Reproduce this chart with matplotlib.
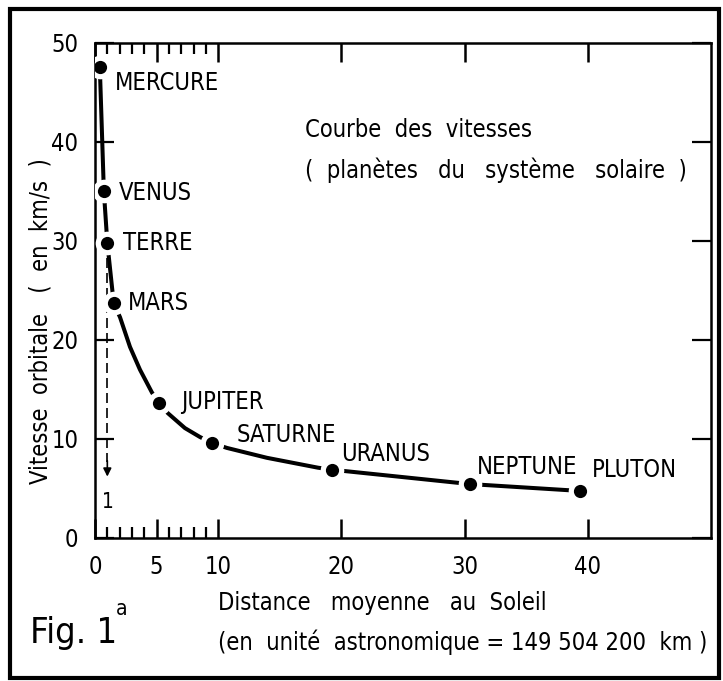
import matplotlib

matplotlib.use("Agg")
import matplotlib.pyplot as plt
from matplotlib.patches import Rectangle
from matplotlib.ticker import MultipleLocator

plt.rcParams["font.family"] = ["DejaVu Sans"]
plt.rcParams["font.stretch"] = "condensed"

# planets (distance in AU, orbital speed in km/s)
planets = ["MERCURE", "VENUS", "TERRE", "MARS", "JUPITER",
           "SATURNE", "URANUS", "NEPTUNE", "PLUTON"]
distance_au = [0.39, 0.72, 1.0, 1.52, 5.2, 9.5, 19.2, 30.4, 39.4]
speed_kms = [47.6, 35.0, 29.8, 23.7, 13.6, 9.6, 6.9, 5.45, 4.75]

# hand-drawn curve (passes through the planets)
curve_au = [0.39, 0.72, 1.0, 1.52, 2.03, 2.84, 3.65, 4.62, 5.2, 5.92,
            7.3, 8.52, 9.5, 10.7, 13.95, 18.1, 19.2, 30.4, 39.4]
curve_v = [47.6, 35.0, 29.8, 23.7, 22.3, 19.3, 17.0, 14.7, 13.6, 12.6,
           11.1, 10.2, 9.6, 9.1, 8.1, 7.1, 6.9, 5.45, 4.75]

x_ticks = [0, 5, 10, 20, 30, 40]
y_ticks = [0, 10, 20, 30, 40, 50]
arrow_end_v = 6.2

# label offsets from each dot, in points (dx, dy)
label_offsets = [(11, -12), (11, -1), (11, 0), (10, 0), (16, 1),
                 (18, 6), (7, 11), (5, 12), (8, 15)]

FS = 17

fig = plt.figure(figsize=(7.23, 6.81), dpi=100)
ax = fig.add_axes([0.1314, 0.2100, 0.8520, 0.7269])
ax.set_xlim(0, 50)
ax.set_ylim(0, 50)

for s in ax.spines.values():
    s.set_linewidth(1.8)

ax.set_xticks(x_ticks)
ax.set_xticklabels([str(t) for t in x_ticks])
ax.set_yticks(y_ticks)
ax.set_yticklabels([str(t) for t in y_ticks])
ax.xaxis.set_minor_locator(MultipleLocator(1))
ax.tick_params(axis="x", which="major", direction="in", top=True, length=14,
               width=1.8, pad=12, labelsize=FS)
ax.tick_params(axis="x", which="minor", direction="in", top=True, length=8,
               width=1.6)
ax.tick_params(axis="y", which="major", direction="in", right=True, length=14,
               width=1.6, pad=12, labelsize=FS)
# minor ticks only between 0 and 10 AU
ax.set_xticks([t for t in range(1, 10) if t != 5], minor=True)

# curve with gaps around the dots
ax.plot(curve_au, curve_v, color="black", lw=2.9, solid_capstyle="butt", zorder=2)
ax.plot(distance_au, speed_kms, "o", ms=17, color="white", mec="none", zorder=3)
ax.plot(distance_au, speed_kms, "o", ms=9.5, color="black", mec="none", zorder=4)

# dashed arrow at 1 AU
earth = planets.index("TERRE")
ax.plot([distance_au[earth]] * 2, [speed_kms[earth], arrow_end_v + 1.5],
        color="black", lw=1.2, ls=(0, (6, 3)), zorder=1)
ax.annotate("", xy=(distance_au[earth], arrow_end_v),
            xytext=(distance_au[earth], arrow_end_v + 1.6),
            arrowprops=dict(arrowstyle="-|>", color="black", lw=1.2,
                            mutation_scale=12, shrinkA=0, shrinkB=0))
ax.text(distance_au[earth] + 0.05, 3.6, "1", fontsize=FS - 2, ha="center", va="center")

for name, x, v, (dx, dy) in zip(planets, distance_au, speed_kms, label_offsets):
    ax.annotate(name, xy=(x, v), xytext=(dx, dy), textcoords="offset points",
                fontsize=FS, ha="left", va="center")

ax.text(0.341, 0.824, "Courbe  des  vitesses", transform=ax.transAxes,
        fontsize=FS, ha="left", va="center")
ax.text(0.341, 0.743, "(  planètes   du   système   solaire  )", transform=ax.transAxes,
        fontsize=FS, ha="left", va="center")

fig.text(0.0565, 0.529, "Vitesse  orbitale   (  en  km/s  )", rotation=90,
         fontsize=FS, ha="center", va="center")
fig.text(0.3015, 0.1145, "Distance   moyenne   au  Soleil", fontsize=FS,
         ha="left", va="center")
fig.text(0.3015, 0.0570, "(en  unité  astronomique = 149 504 200  km )",
         fontsize=FS, ha="left", va="center")

fig_label = fig.text(0.0415, 0.0558, "Fig. 1", fontsize=26, ha="left", va="baseline")
# superscript "a" just after "Fig. 1"
ax.annotate("a", xy=(1, 1), xycoords=fig_label, xytext=(-1, 12),
            textcoords="offset points", fontsize=15, ha="left", va="top",
            annotation_clip=False)

# outer frame
fig.patches.append(Rectangle((0.0138, 0.0044), 0.9807, 0.9824, transform=fig.transFigure,
                             fill=False, lw=3, ec="black"))

fig.savefig("out.png", dpi=100)
